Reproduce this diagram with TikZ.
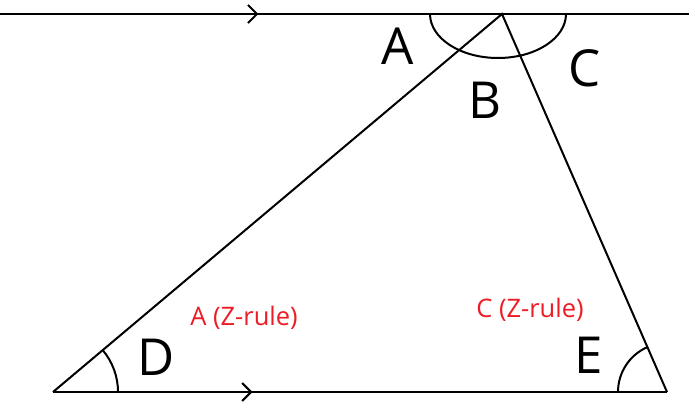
\documentclass[tikz,border=0pt]{standalone}
\usepackage{fontspec}
\setmainfont{Open Sans}
\usetikzlibrary{arrows.meta,decorations.markings}
\definecolor{zred}{RGB}{237,28,36}
\begin{document}
\begin{tikzpicture}[x=1pt,y=-1pt,
  ln/.style={line width=2pt},
  big/.style={font=\fontsize{51}{51}\selectfont, inner sep=0pt},
  redlbl/.style={font=\fontsize{25.5}{25.5}\selectfont, text=zred, inner sep=0pt},
  midarrow/.style={decoration={markings, mark=at position #1 with {\arrow{Straight Barb[length=9pt,width=18pt,line width=2pt]}}}, postaction=decorate}]
\useasboundingbox (0,0) rectangle (689,406);
\coordinate (L) at (0,14);
\coordinate (R) at (689,14);
\coordinate (P) at (502,14);
\coordinate (D) at (53,392);
\coordinate (E) at (667,392);
% parallel lines
\draw[ln, midarrow=0.375] (L) -- (R);
\draw[ln, midarrow=0.325] (D) -- (E);
% triangle sides
\draw[ln] (D) -- (P) -- (E);
% angle arcs
\draw[ln] (430,14) arc[start angle=180, end angle=360, x radius=68, y radius=-44];
\draw[ln] (118,392) arc[start angle=0, delta angle=-40.2, radius=65];
\draw[ln] (618,392) arc[start angle=180, delta angle=67, radius=49];
% labels
\node[big] (lA) at (398,46) {A};
\node[big] (lB) at (485,100) {B};
\node[big] (lC) at (585,68) {C};
\node[big] (lD) at (156,357) {D};
\node[big] (lE) at (589,355) {E};
\node[redlbl] (zA) at (244,318) {A (Z-rule)};
\node[redlbl] (zC) at (530,310) {C (Z-rule)};
\end{tikzpicture}
\end{document}
